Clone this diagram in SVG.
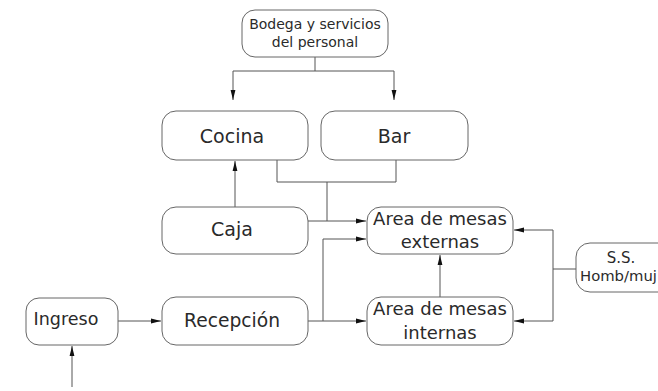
<svg xmlns="http://www.w3.org/2000/svg" width="658" height="391" viewBox="0 0 658 391">
<defs>
<marker id="ah" viewBox="0 0 10 6" refX="10" refY="3" markerWidth="10" markerHeight="6" markerUnits="userSpaceOnUse" orient="auto">
<path d="M0,0.6 L10,3 L0,5.4 Z" fill="#111"/>
</marker>
<style>
.box{fill:#fff;stroke:#666;stroke-width:1}
.t{font-family:"DejaVu Sans",sans-serif;fill:#2a2a2a;text-anchor:middle}
.c{fill:none;stroke:#555;stroke-width:1}
.a{fill:none;stroke:#555;stroke-width:1;marker-end:url(#ah)}
</style>
</defs>
<rect width="658" height="391" fill="#fff"/>
<g id="connectors">
<path class="c" d="M315,57 V71 M233,71 H394"/>
<path class="a" d="M233,71 V100"/>
<path class="a" d="M394,71 V100"/>
<path class="c" d="M277,160 V182 H396 V160 M327,182 V221"/>
<path class="a" d="M308,221 H366"/>
<path class="a" d="M235,207 V161"/>
<path class="a" d="M118,321 H161"/>
<path class="a" d="M72,387 V346"/>
<path class="a" d="M308,321 H366"/>
<path class="a" d="M323,321 V239 H366"/>
<path class="a" d="M440,297 V255"/>
<path class="c" d="M576,269 H553 M553,230 V321"/>
<path class="a" d="M553,230 H514"/>
<path class="a" d="M553,321 H514"/>
</g>
<g id="bodega">
<rect class="box" x="242" y="10" width="146" height="47" rx="13"/>
<text class="t" x="315" y="29" font-size="14">Bodega y servicios</text>
<text class="t" x="315" y="47" font-size="14">del personal</text>
</g>
<g id="cocina">
<rect class="box" x="162" y="111" width="146" height="49" rx="14"/>
<text class="t" x="232" y="143" font-size="19">Cocina</text>
</g>
<g id="bar">
<rect class="box" x="321" y="111" width="147" height="49" rx="14"/>
<text class="t" x="394" y="143" font-size="19">Bar</text>
</g>
<g id="caja">
<rect class="box" x="162" y="207" width="146" height="47" rx="14"/>
<text class="t" x="232" y="236" font-size="19">Caja</text>
</g>
<g id="externas">
<rect class="box" x="367" y="207" width="146" height="47" rx="14"/>
<text class="t" x="440" y="225" font-size="18">Area de mesas</text>
<text class="t" x="440" y="248" font-size="18">externas</text>
</g>
<g id="recepcion">
<rect class="box" x="162" y="297" width="146" height="48" rx="14"/>
<text class="t" x="232" y="327" font-size="18.7">Recepción</text>
</g>
<g id="internas">
<rect class="box" x="367" y="297" width="146" height="48" rx="14"/>
<text class="t" x="440" y="315" font-size="18">Area de mesas</text>
<text class="t" x="440" y="339" font-size="18">internas</text>
</g>
<g id="ingreso">
<rect class="box" x="26" y="298" width="92" height="47" rx="13"/>
<text class="t" x="66" y="325" font-size="17.5">Ingreso</text>
</g>
<g id="ss">
<rect class="box" x="576" y="243" width="100" height="49" rx="14"/>
<text class="t" x="621" y="263" font-size="15">S.S.</text>
<text x="580" y="281" font-size="14.8" font-family="DejaVu Sans,sans-serif" fill="#2a2a2a">Homb/muj</text>
</g>
</svg>
